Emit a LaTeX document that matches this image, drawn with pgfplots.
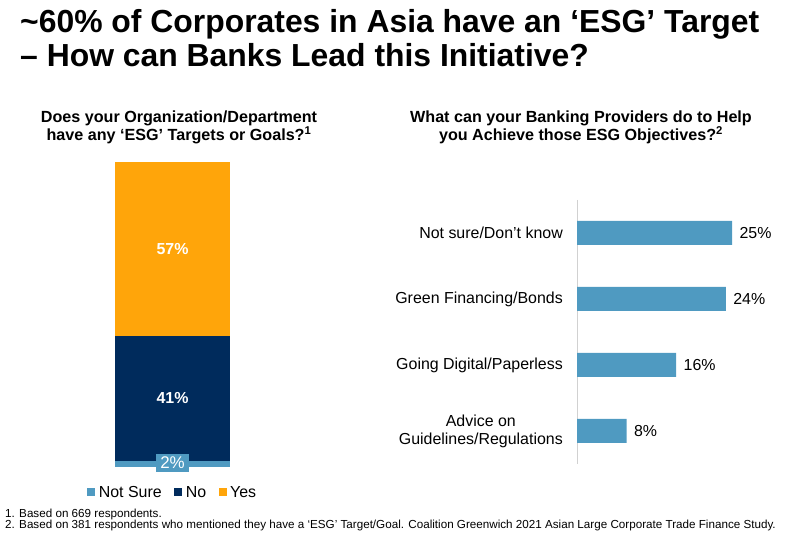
\documentclass[border=0pt]{standalone}
\usepackage{pgfplots}
\pgfplotsset{compat=1.18}
\usepackage{fontspec}
\setmainfont{Liberation Sans}
\definecolor{cgorange}{HTML}{FFA50A}
\definecolor{cgnavy}{HTML}{002B5C}
\definecolor{cgblue}{HTML}{4F9AC1}
\begin{document}
\begin{tikzpicture}[x=1bp,y=1bp]
\path[use as bounding box] (0,0) rectangle (795,540);
% Title
\node[anchor=base west, inner sep=0pt, font=\bfseries\fontsize{32}{34}\selectfont] at (20,507) {\textasciitilde60\% of Corporates in Asia have an ‘ESG’ Target};
\node[anchor=base west, inner sep=0pt, font=\bfseries\fontsize{32}{34}\selectfont] at (20,473) {– How can Banks Lead this Initiative?};
% Subtitles
\node[anchor=base, inner sep=0pt, align=center, font=\bfseries\fontsize{16.2}{19}\selectfont] at (179,399) {Does your Organization/Department\\have any ‘ESG’ Targets or Goals?\textsuperscript{1}};
\node[anchor=base, inner sep=0pt, align=center, font=\bfseries\fontsize{16.2}{19}\selectfont] at (581,399) {What can your Banking Providers do to Help\\you Achieve those ESG Objectives?\textsuperscript{2}};
% Footnotes
\node[anchor=base west, inner sep=0pt, align=left, font=\fontsize{11.7}{12}\selectfont] at (5,11) {1. Based on 669 respondents.\\2. Based on 381 respondents who mentioned they have a ‘ESG’ Target/Goal. Coalition Greenwich 2021 Asian Large Corporate Trade Finance Study.};

% Left stacked bar
\begin{axis}[at={(115bp,73bp)}, anchor=south west, scale only axis,
  width=115bp, height=305bp, xmin=-0.5, xmax=0.5, ymin=0, ymax=100,
  ybar stacked, bar width=115bp, axis lines=none, ticks=none, clip=false,
  legend columns=3,
  legend style={at={(0.5,-0.058)}, anchor=north, draw=none, fill=none,
    font=\fontsize{16}{18}\selectfont, inner sep=0pt,
    nodes={inner sep=1.5bp},
    /tikz/every odd column/.append style={column sep=2bp},
    /tikz/every even column/.append style={column sep=11bp}},
  legend image code/.code={\fill[#1] (0bp,-3bp) rectangle (8bp,5bp);},
  after end axis/.code={
    \node[text=white, font=\bfseries\fontsize{16}{18}\selectfont] at (axis cs:0,71.5) {57\%};
    \node[text=white, font=\bfseries\fontsize{16}{18}\selectfont] at (axis cs:0,22.5) {41\%};
    \node[text=white, fill=cgblue, inner xsep=4bp, inner ysep=3.5bp, font=\fontsize{17}{19}\selectfont] at (axis cs:0,1.3) {2\%};
  }]
\addplot[fill=cgblue, draw=none] coordinates {(0,2)};
\addlegendentry{Not Sure}
\addplot[fill=cgnavy, draw=none] coordinates {(0,41)};
\addlegendentry{No}
\addplot[fill=cgorange, draw=none] coordinates {(0,57)};
\addlegendentry{Yes}
\end{axis}

% Right horizontal bars
\begin{axis}[at={(577bp,340bp)}, anchor=north west, scale only axis,
  width=186bp, height=264bp, xmin=0, xmax=30, ymin=-0.5, ymax=3.5,
  y dir=reverse, xbar, bar width=24bp,
  hide x axis, axis y line*=left, y axis line style={draw=black!18, line width=1bp},
  ytick={0,1,2,3},
  yticklabels={Not sure/Don't know, Green Financing/Bonds, Going Digital/Paperless, {Advice on\\Guidelines/Regulations}},
  major tick length=0pt,
  yticklabel style={align=center, font=\fontsize{16}{18}\selectfont, inner sep=0pt, xshift=-14bp},
  /pgf/number format/assume math mode=true,
  nodes near coords={\pgfmathprintnumber{\pgfplotspointmeta}\%},
  every node near coord/.append style={font=\fontsize{16}{18}\selectfont, text=black, xshift=4bp},
  clip=false]
\addplot[fill=cgblue, draw=none] coordinates {(25,0) (24,1) (16,2) (8,3)};
\end{axis}
\end{tikzpicture}
\end{document}
